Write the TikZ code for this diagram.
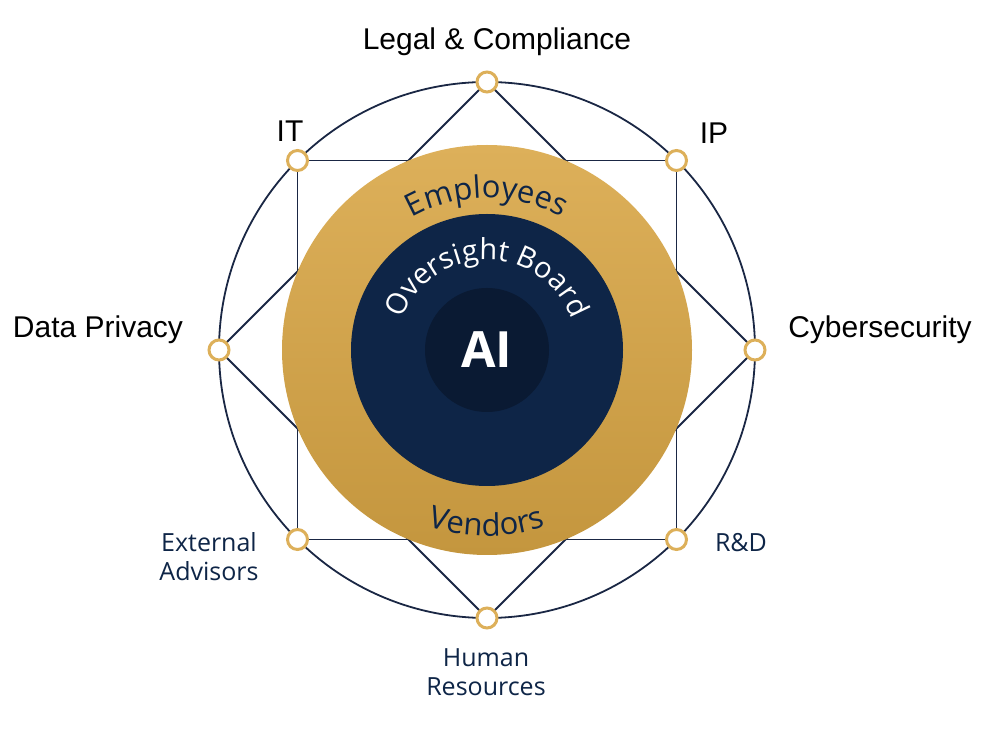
\documentclass[tikz,border=0pt]{standalone}
\usepackage{fontspec}
\setmainfont{Open Sans}
\newfontfamily\arialf{Liberation Sans}
\usetikzlibrary{decorations.text,calc}
\definecolor{navy}{HTML}{0E2547}
\definecolor{navyline}{HTML}{1A2744}
\definecolor{gold}{HTML}{DDB05A}
\definecolor{goldd}{HTML}{C4963E}
\definecolor{deep}{HTML}{0A1A33}
\tikzset{
  hub/.style={circle,draw=gold,line width=3pt,fill=white,minimum size=20pt,inner sep=0pt},
  blab/.style={font=\arialf\fontsize{30}{32}\selectfont,text=black,inner sep=1pt},
  nlab/.style={font=\fontsize{25}{29}\selectfont,text=navy,align=center,inner sep=1pt},
  link/.style={draw=navyline,line width=1.8pt}
}
\begin{document}
\begin{tikzpicture}[x=1pt,y=1pt]
\useasboundingbox (0,0) rectangle (1002,745);
\coordinate (c) at (487,395);
\draw[navyline,line width=1.8pt] (c) circle[radius=268];
\foreach \n/\a in {legal/90,ip/45,cyber/0,rd/-45,hr/-90,ext/-135,dp/180,it/135}
  \coordinate (p\n) at ($(c)+(\a:268)$);
\draw[link] (pit) -- (pip) -- (prd) -- (pext) -- cycle;
\draw[link] (plegal) -- (pcyber) -- (phr) -- (pdp) -- cycle;
\shade[shading angle=135,top color=gold,bottom color=goldd] (c) circle[radius=205];
\fill[navy] (c) circle[radius=136];
\fill[deep] (c) circle[radius=62];
\node[text=white,font=\fontsize{50}{50}\selectfont\bfseries] (ai) at (c) {AI};
\path[decorate,decoration={text along path,text align=center,
  text={|\fontsize{31}{31}\selectfont\color{navy}|Employees}}]
  ($(c)+(135:152)$) arc[start angle=135,end angle=45,radius=152];
\path[decorate,decoration={text along path,text align=center,
  text={|\fontsize{31}{31}\selectfont\color{navy}|Vendors}}]
  ($(c)+(225:186)$) arc[start angle=225,end angle=315,radius=186];
\path[decorate,decoration={text along path,text align=center,
  text={|\fontsize{29}{29}\selectfont\color{white}|Oversight Board}}]
  ($(c)+(165:90)$) arc[start angle=165,end angle=15,radius=90];
\foreach \n in {legal,ip,cyber,rd,hr,ext,dp,it}
  \node[hub] (h\n) at (p\n) {};
\node[blab] (llegal) at (497,703) {Legal \& Compliance};
\node[blab,fill=white] (lit) at (290,614) {IT};
\node[blab] (lip) at (714,612) {IP};
\node[blab,fill=white] (lcyber) at (880,415) {Cybersecurity};
\node[blab] (ldp) at (98,415) {Data Privacy};
\node[nlab] (lext) at (209,188) {External\\Advisors};
\node[nlab] (lrd) at (741,202) {R\&D};
\node[nlab] (lhr) at (486,73) {Human\\Resources};
\end{tikzpicture}
\end{document}
